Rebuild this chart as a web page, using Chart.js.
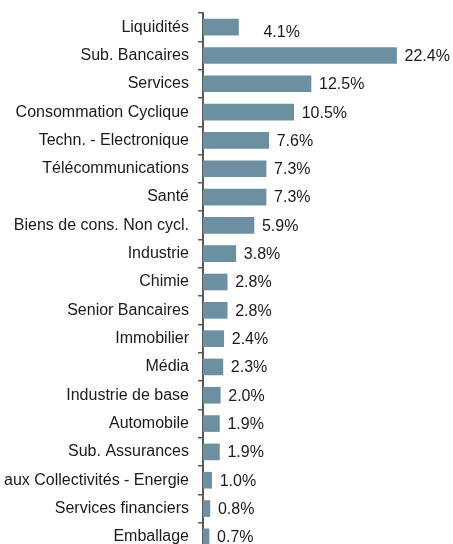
<!DOCTYPE html>
<html>
<head>
<meta charset="utf-8">
<script src="https://cdn.jsdelivr.net/npm/chart.js@4"></script>
<style>
  html, body { margin: 0; padding: 0; background: #fff; overflow: hidden; }
  canvas { display: block; }
</style>
</head>
<body>
<canvas id="chart" width="453" height="560"></canvas>
<script>
const categories = ['Liquidités', 'Sub. Bancaires', 'Services', 'Consommation Cyclique', 'Techn. - Electronique',
  'Télécommunications', 'Santé', 'Biens de cons. Non cycl.', 'Industrie', 'Chimie', 'Senior Bancaires',
  'Immobilier', 'Média', 'Industrie de base', 'Automobile', 'Sub. Assurances', 'aux Collectivités - Energie',
  'Services financiers', 'Emballage'];
const weights = [4.1, 22.4, 12.5, 10.5, 7.6, 7.3, 7.3, 5.9, 3.8, 2.8, 2.8, 2.4, 2.3, 2.0, 1.9, 1.9, 1.0, 0.8, 0.7];

const textFont = '"Liberation Sans", Arial, sans-serif';

// value labels drawn to the right of each bar
const valueLabels = {
  id: 'valueLabels',
  afterDatasetsDraw(chart) {
    const ctx = chart.ctx;
    const meta = chart.getDatasetMeta(0);
    ctx.save();
    ctx.font = '16px ' + textFont;
    ctx.fillStyle = '#1a1a1a';
    ctx.textBaseline = 'middle';
    ctx.textAlign = 'left';
    meta.data.forEach((bar, i) => {
      let dx = 8, dy = 1;
      if (i === 0) { dx = 25; dy = 5; } // first label sits a bit off in the original
      ctx.fillText(weights[i].toFixed(1) + '%', bar.x + dx, bar.y + dy);
    });
    ctx.restore();
  }
};

new Chart(document.getElementById('chart'), {
  type: 'bar',
  data: {
    labels: categories,
    datasets: [{
      data: weights,
      backgroundColor: '#6c8fa2',
      barThickness: 16
    }]
  },
  options: {
    indexAxis: 'y',
    responsive: false,
    animation: false,
    layout: { padding: { top: 13, bottom: 9, right: 34, left: 0 } },
    plugins: {
      legend: { display: false },
      tooltip: { enabled: false }
    },
    scales: {
      x: {
        display: false,
        min: 0,
        max: 25
      },
      y: {
        z: 1,
        afterFit(scale) {
          scale.width = 203;
          scale.paddingTop = 0;
          scale.paddingBottom = 0;
        },
        grid: {
          drawOnChartArea: false,
          drawTicks: true,
          tickLength: 5,
          color: '#595959',
          lineWidth: 1.5
        },
        border: { display: true, color: '#595959', width: 2 },
        ticks: {
          padding: 9,
          color: '#1a1a1a',
          font: { family: textFont, size: 16 },
          autoSkip: false
        }
      }
    }
  },
  plugins: [valueLabels]
});
</script>
</body>
</html>
